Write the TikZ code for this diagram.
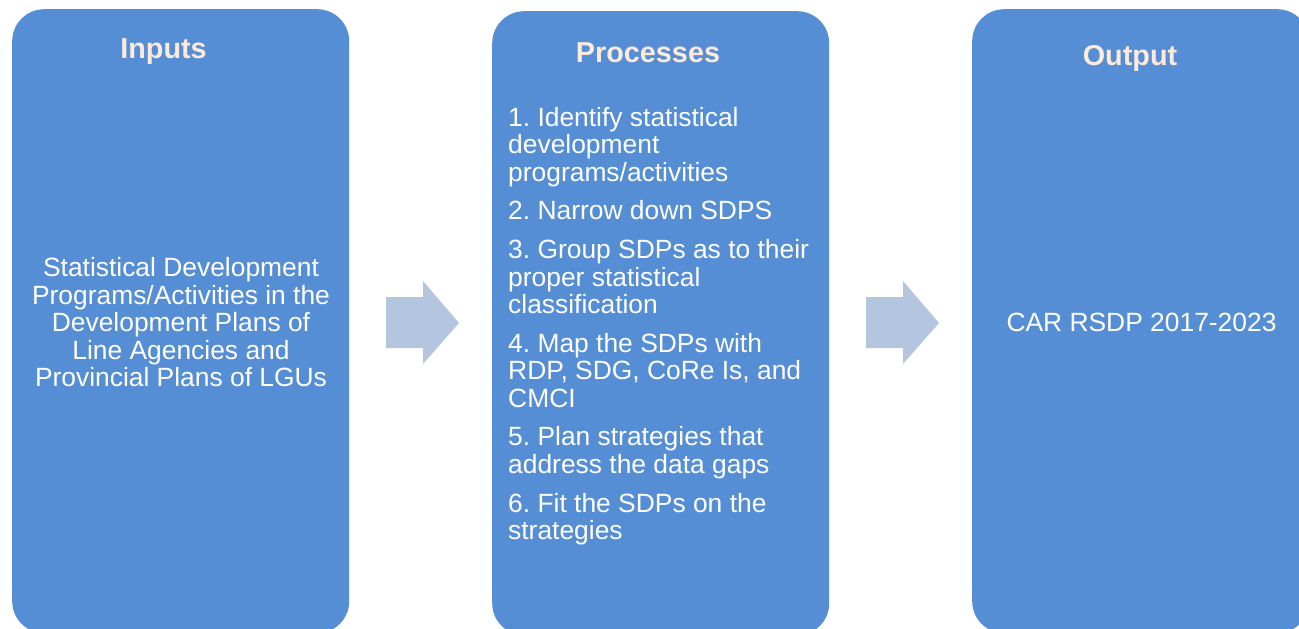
\documentclass[tikz,border=0pt]{standalone}
\usepackage{fontspec}
\setmainfont{Liberation Sans}
\usetikzlibrary{positioning}
\definecolor{boxblue}{HTML}{558ED5}
\definecolor{titlepeach}{HTML}{FDEADA}
\definecolor{arrowgrey}{HTML}{B4C5E0}
\tikzset{
  % kolumner
  stage/.style={rectangle,rounded corners=32pt,fill=boxblue,draw=none,
               minimum width=337pt,minimum height=624pt,anchor=north west,inner sep=0pt},
  stagetitle/.style={text=titlepeach,font=\fontsize{28.8}{34}\selectfont\bfseries,
               anchor=base,inner sep=0pt},
  stagetext/.style={text=white,font=\fontsize{26.4}{27.4}\selectfont\frenchspacing,
               inner sep=0pt},
  % pilar
  flow/.style={fill=arrowgrey,draw=none},
}
\begin{document}
\begin{tikzpicture}[x=1pt,y=-1pt]
  \useasboundingbox (0,0) rectangle (1299,629);
  \clip (0,0) rectangle (1299,629);
  \node[stage] (inbox) at (12,9) {};
  \node[stage] (procbox) at (492,11) {};
  \node[stage] (outbox) at (972,9) {};
  \foreach \x in {386,866}
    \fill[flow] (\x,297) -- ++(37,0) -- ++(0,-16) -- ++(36,42) -- ++(-36,41)
      -- ++(0,-16) -- ++(-37,0) -- cycle;
  \node[stagetitle] (intitle) at (163.5,58) {Inputs};
  \node[stagetitle] (proctitle) at (648,62) {Processes};
  \node[stagetitle] (outtitle) at (1130,65) {Output};
  \node[stagetext,align=center,anchor=north] (intext) at (181,257.5)
    {Statistical Development\\Programs/Activities in the\\Development Plans of\\
     Line Agencies and\\Provincial Plans of LGUs};
  \node[stagetext,align=left,anchor=north west] (proctext) at (508,107)
    {1. Identify statistical\\development\\programs/activities\\[11.4pt]
     2. Narrow down SDPS\\[11.4pt]
     3. Group SDPs as to their\\proper statistical\\classification\\[11.4pt]
     4. Map the SDPs with\\RDP, SDG, CoRe Is, and\\CMCI\\[11.4pt]
     5. Plan strategies that\\address the data gaps\\[11.4pt]
     6. Fit the SDPs on the\\strategies};
  \node[stagetext,anchor=base] (outtext) at (1141.5,331.5) {CAR RSDP 2017-2023};
\end{tikzpicture}
\end{document}
